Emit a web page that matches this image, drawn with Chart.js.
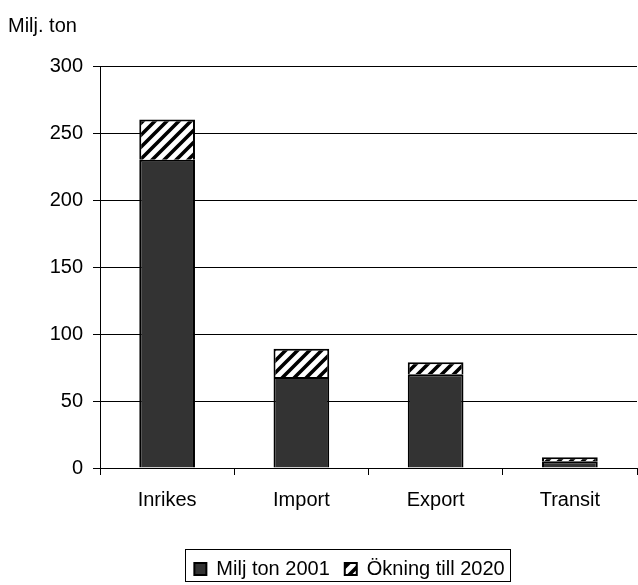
<!DOCTYPE html>
<html>
<head>
<meta charset="utf-8">
<script src="https://cdn.jsdelivr.net/npm/chart.js@4/dist/chart.umd.min.js"></script>
<style>
  html, body { margin: 0; padding: 0; background: #fff; }
  #wrap { width: 638px; height: 585px; }
</style>
</head>
<body>
<div id="wrap"><canvas id="c" width="638" height="585"></canvas></div>
<script>
// Godsmängder per kategori (miljoner ton)
const categories = ['Inrikes', 'Import', 'Export', 'Transit'];
const milj2001 = [230, 68, 70, 5];
const okning2020 = [30, 21, 9, 3];
const yTicks = [0, 50, 100, 150, 200, 250, 300];

const FONT = 'Liberation Sans, Arial, sans-serif';

// Diagonal hatch fill ("/" stripes on white)
function hatchPattern() {
  const s = 12;
  const cv = document.createElement('canvas');
  cv.width = s; cv.height = s;
  const g = cv.getContext('2d');
  g.fillStyle = '#fff';
  g.fillRect(0, 0, s, s);
  g.strokeStyle = '#000';
  g.lineWidth = 3.6;
  g.beginPath();
  g.moveTo(0, s); g.lineTo(s, 0);
  g.moveTo(-s / 2, s / 2); g.lineTo(s / 2, -s / 2);
  g.moveTo(s / 2, s + s / 2); g.lineTo(s + s / 2, s / 2);
  g.stroke();
  return g.createPattern(cv, 'repeat');
}

// Move the legend a little down/right and frame its items
const legendFrame = {
  id: 'legendFrame',
  afterLayout(chart) {
    const lg = chart.legend;
    if (lg) {
      lg.top += 4; lg.bottom += 4;
      lg.left += 27; lg.right += 27;
    }
  },
  afterDraw(chart) {
    const lg = chart.legend;
    if (!lg || !lg.legendHitBoxes || !lg.legendHitBoxes.length) return;
    const boxes = lg.legendHitBoxes;
    const left = Math.min(...boxes.map(b => b.left)) - 9;
    const right = Math.max(...boxes.map(b => b.left + b.width)) + 6;
    const top = Math.min(...boxes.map(b => b.top)) - 10;
    const ctx = chart.ctx;
    ctx.save();
    ctx.strokeStyle = '#000';
    ctx.lineWidth = 1;
    ctx.strokeRect(Math.round(left) + 0.5, Math.round(top) + 0.5,
                   Math.round(right - left), 32);
    ctx.restore();
  }
};

new Chart(document.getElementById('c'), {
  type: 'bar',
  data: {
    labels: categories,
    datasets: [
      {
        label: 'Milj ton 2001',
        data: milj2001,
        backgroundColor: '#333333',
        borderColor: '#000',
        borderWidth: 2,
        categoryPercentage: 1,
        barPercentage: 0.415
      },
      {
        label: 'Ökning till 2020',
        data: okning2020,
        backgroundColor: hatchPattern(),
        borderColor: '#000',
        borderWidth: 2,
        categoryPercentage: 1,
        barPercentage: 0.415
      }
    ]
  },
  options: {
    responsive: false,
    animation: false,
    layout: { padding: { left: 8, right: 1, top: 0, bottom: 0 } },
    plugins: {
      title: {
        display: true,
        text: 'Milj. ton',
        align: 'start',
        color: '#000',
        font: { family: FONT, size: 20, weight: 'normal' },
        padding: { top: 14, bottom: 28 }
      },
      legend: {
        position: 'bottom',
        labels: {
          color: '#000',
          font: { family: FONT, size: 20 },
          boxWidth: 12,
          boxHeight: 12,
          padding: 15
        }
      },
      tooltip: { enabled: false }
    },
    scales: {
      x: {
        stacked: true,
        afterFit: s => { s.height = 72; },
        grid: { display: true, drawOnChartArea: false, drawTicks: true, tickLength: 7, color: '#000' },
        border: { display: true, color: '#000', width: 1 },
        ticks: { color: '#000', font: { family: FONT, size: 20 }, padding: 13 }
      },
      y: {
        stacked: true,
        min: 0,
        max: 300,
        afterFit: s => { s.width = 92; },
        afterBuildTicks: s => { s.ticks = yTicks.map(v => ({ value: v })); },
        grid: { color: '#000', lineWidth: 1, drawTicks: true, tickLength: 7 },
        border: { display: true, color: '#000', width: 1 },
        ticks: { color: '#000', font: { family: FONT, size: 20 }, padding: 10 }
      }
    }
  },
  plugins: [legendFrame]
});
</script>
</body>
</html>
